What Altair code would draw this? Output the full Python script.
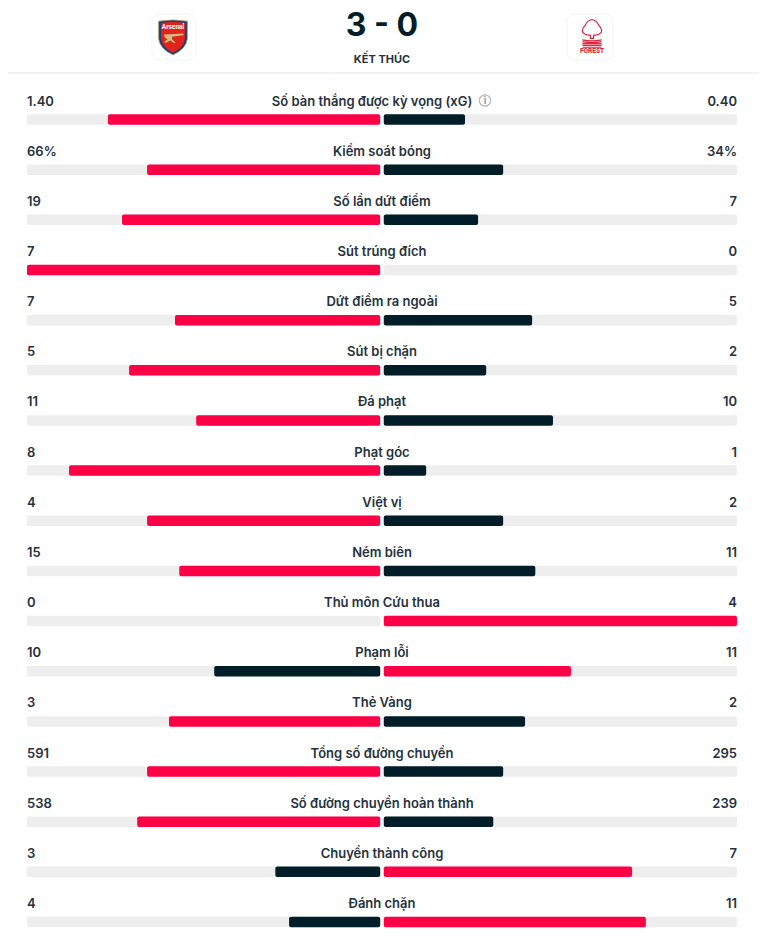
import altair as alt
import pandas as pd

categories = ["Số bàn thắng được kỳ vọng (xG)", "Kiểm soát bóng", "Số lần dứt điểm", "Sút trúng đích",
              "Dứt điểm ra ngoài", "Sút bị chặn", "Đá phạt", "Phạt góc", "Việt vị", "Ném biên",
              "Thủ môn Cứu thua", "Phạm lỗi", "Thẻ Vàng", "Tổng số đường chuyền",
              "Số đường chuyền hoàn thành", "Chuyền thành công", "Đánh chặn"]
home_labels = ["1.40", "66%", "19", "7", "7", "5", "11", "8", "4", "15", "0", "10", "3", "591", "538", "3", "4"]
away_labels = ["0.40", "34%", "7", "0", "5", "2", "10", "1", "2", "11", "4", "11", "2", "295", "239", "7", "11"]
home_share = [.771, .66, .731, 1.0, .581, .711, .521, .881, .66, .569, 0.0, .47, .598, .66, .688, .297, .258]
away_share = [.23, .338, .267, 0.0, .42, .29, .479, .12, .338, .429, 1.0, .53, .40, .338, .31, .703, .742]
label_shift = [-.028] + [0.0] * 16

RED = "#ff0046"
DARK = "#011e28"
TRACK = "#eeeeee"
TEXT = "#26323d"
FONT = "Inter"
GAP = 0.005

df = pd.DataFrame({"stat": categories, "hl": home_labels, "al": away_labels,
                   "hs": home_share, "as": away_share, "c": label_shift})
df["l_in"] = -GAP
df["r_in"] = GAP
df["l_out"] = -(GAP + df["hs"] * (1 - GAP))
df["r_out"] = GAP + df["as"] * (1 - GAP)
df["l_end"] = -1.0
df["r_end"] = 1.0
df["l_col"] = [RED if h > a else DARK for h, a in zip(home_share, away_share)]
df["r_col"] = [DARK if h > a else RED for h, a in zip(home_share, away_share)]

xs = alt.Scale(domain=[-1, 1], range=[19, 729])
ys = alt.Scale(type="point", domain=categories, range=[111.5, 914], padding=0)
Y = alt.Y("stat:N", scale=ys, axis=None)


def X(f):
    return alt.X(f + ":Q", scale=xs, axis=None)


base = alt.Chart(df)


def bars(x, x2, colour):
    return base.mark_bar(height=10.5, cornerRadius=2).encode(
        x=X(x), x2=alt.X2(x2), y=Y, color=colour)


def txt(field, pos, align):
    return base.mark_text(align=align, dy=-18, font=FONT, fontSize=13, fontWeight=600, color=TEXT).encode(
        x=X(pos), y=Y, text=alt.Text(field + ":N"))


rows = [
    bars("l_in", "l_end", alt.value(TRACK)),
    bars("r_in", "r_end", alt.value(TRACK)),
    base.transform_filter("datum.hs > 0").mark_bar(height=10.5, cornerRadius=2).encode(
        x=X("l_in"), x2=alt.X2("l_out"), y=Y, color=alt.Color("l_col:N", scale=None)),
    base.transform_filter("datum.as > 0").mark_bar(height=10.5, cornerRadius=2).encode(
        x=X("r_in"), x2=alt.X2("r_out"), y=Y, color=alt.Color("r_col:N", scale=None)),
    txt("hl", "l_end", "left"),
    txt("al", "r_end", "right"),
    txt("stat", "c", "center"),
]

one = pd.DataFrame({"k": [0]})


def head_text(s, x, y, size, weight=700, colour=TEXT, font=FONT):
    return alt.Chart(one).mark_text(text=s, font=font, fontSize=size, fontWeight=weight, color=colour,
                                    align="center", baseline="middle").encode(x=alt.value(x), y=alt.value(y))


def box(x0, x1, y0, y1, fill, stroke=None, radius=8):
    kw = {"stroke": stroke, "strokeWidth": 1} if stroke else {}
    return alt.Chart(one).mark_rect(color=fill, cornerRadius=radius, **kw).encode(
        x=alt.value(x0), x2=alt.value(x1), y=alt.value(y0), y2=alt.value(y1))


def glyph(path, x, y, size, fill=None, stroke=None, width=1.0):
    kw = {}
    if fill:
        kw.update(fill=fill, filled=True)
    else:
        kw.update(filled=False, fill="transparent")
    if stroke:
        kw.update(stroke=stroke, strokeWidth=width)
    else:
        kw.update(strokeWidth=0)
    return alt.Chart(one).mark_point(shape=path, size=size, opacity=1, **kw).encode(
        x=alt.value(x), y=alt.value(y))


SHIELD = "M-.8,-.88 Q0,-1.02 .8,-.88 L.8,.1 Q.75,.65 0,1 Q-.75,.65 -.8,.1 Z"
INNER = "M-.66,-.78 Q0,-.9 .66,-.78 L.66,.08 Q.6,.58 0,.87 Q-.6,.58 -.66,.08 Z"
CANNON = ("M-.5,-.14 L.58,-.2 L.58,-.1 L-.05,-.02 L-.05,.14 L.15,.3 L.05,.34 L-.15,.2 "
          "L-.4,.34 L-.5,.28 L-.3,.12 Q-.48,.06 -.5,-.14 Z")
TREE = ("M0,-1 Q.25,-.95 .36,-.7 Q.58,-.45 .5,-.3 Q.35,-.12 .1,-.16 L.08,.02 L-.08,.02 L-.1,-.16 "
        "Q-.35,-.12 -.5,-.3 Q-.58,-.45 -.36,-.7 Q-.25,-.95 0,-1 Z")
WAVES = "M-.52,.1 Q0,.2 .52,.1 M-.52,.2 Q0,.3 .52,.2 M-.52,.3 L.52,.3 M-.52,.4 L.52,.4 M-.5,.5 L.5,.5"

header = [
    alt.Chart(one).mark_rule(color="#f2f2f2", strokeWidth=2).encode(
        x=alt.value(0), x2=alt.value(751), y=alt.value(65)),
    box(144, 188, 6, 52, "#ffffff", "#f3f3f3"),
    box(559, 605, 6, 52, "#ffffff", "#f3f3f3"),
    glyph(SHIELD, 165, 29, 1296, fill="#1d3f7a", stroke="#b9a06a", width=0.8),
    glyph(INNER, 165, 29, 1296, fill="#e2231a"),
    glyph(CANNON, 165, 29, 1296, fill="#d2ba80"),
    head_text("Arsenal", 165, 18.5, 6.5, 700, "#ffffff", "Roboto"),
    glyph(TREE, 584, 30, 1369, stroke="#e5213a", width=1.2),
    glyph(WAVES, 584, 30, 1369, stroke="#e5213a", width=1.2),
    head_text("FOREST", 584, 43, 6.5, 800, "#e5213a", "Roboto"),
    head_text("3 - 0", 374, 18, 32, 700, DARK, "Inter"),
    head_text("KẾT THÚC", 374, 51.5, 11, 700, TEXT),
    alt.Chart(one).mark_point(shape="circle", size=130, filled=False, color="#b9b9b9", strokeWidth=1.2, opacity=1).encode(
        x=alt.value(477), y=alt.value(92.5)),
    head_text("i", 477, 93, 10, 700, "#9a9a9a"),
]

chart = alt.layer(*rows, *header).properties(
    width=751, height=924, padding=0, background="#ffffff", autosize=alt.AutoSizeParams(type="none")
).configure_view(stroke=None)

chart.save("out.html", embed_options={"renderer": "svg", "actions": False})
